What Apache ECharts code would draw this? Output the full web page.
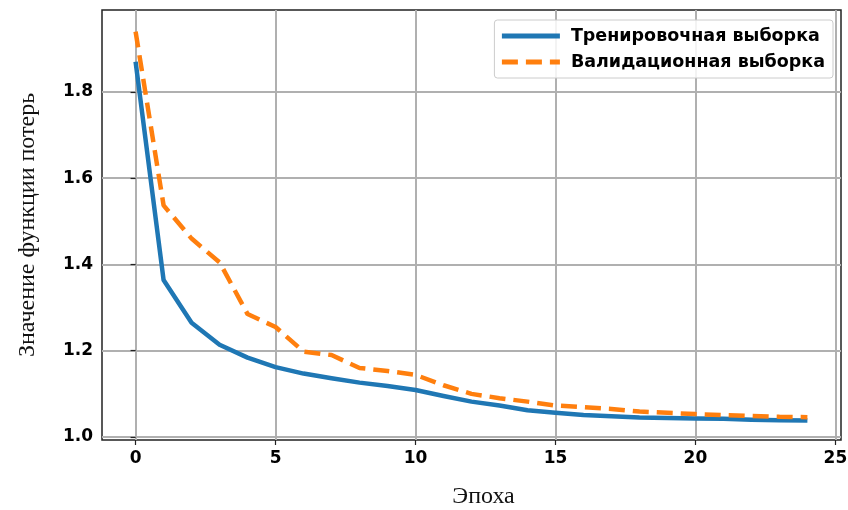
<!DOCTYPE html>
<html>
<head>
<meta charset="utf-8">
<script src="https://cdn.jsdelivr.net/npm/echarts@6/dist/echarts.min.js"></script>
<style>
  html, body { margin: 0; padding: 0; background: #fff; }
  #chart { width: 848px; height: 510px; }
</style>
</head>
<body>
<div id="chart"></div>
<script>
// данные графика
const epochs = [0, 1, 2, 3, 4, 5, 6, 7, 8, 9, 10, 11, 12, 13, 14, 15, 16, 17, 18, 19, 20, 21, 22, 23, 24]
const trainLoss = [1.87, 1.364, 1.265, 1.214, 1.184, 1.162, 1.147, 1.136, 1.126, 1.118, 1.109, 1.095, 1.082, 1.073, 1.062, 1.056, 1.051, 1.048, 1.045, 1.044, 1.043, 1.042, 1.040, 1.039, 1.038]
const valLoss = [1.94, 1.537, 1.46, 1.405, 1.285, 1.255, 1.198, 1.19, 1.16, 1.153, 1.144, 1.12, 1.1, 1.09, 1.082, 1.073, 1.069, 1.065, 1.059, 1.056, 1.053, 1.051, 1.049, 1.047, 1.046]
const xTicks = [0, 5, 10, 15, 20, 25]
const yTicks = [1.0, 1.2, 1.4, 1.6, 1.8]
const seriesNames = ['Тренировочная выборка', 'Валидационная выборка']

const myChart = echarts.init(document.getElementById('chart'))

const tickFont = {
  fontFamily: 'DejaVu Sans',
  fontWeight: 'bold',
  fontSize: 17,
  color: '#000'
}

const option = {
  animation: false,
  backgroundColor: '#fff',
  grid: {
    left: 102,
    right: 7,
    top: 10,
    bottom: 70,
    outerBoundsMode: 'none',
    containLabel: false,
    show: true,
    borderColor: '#222',
    borderWidth: 1.5
  },
  legend: {
    top: 20,
    right: 15,
    orient: 'vertical',
    itemWidth: 58,
    itemHeight: 14,
    itemGap: 8,
    padding: [7, 8, 7, 5],
    backgroundColor: 'rgba(255,255,255,0.85)',
    borderColor: '#ccc',
    borderWidth: 1,
    borderRadius: 3,
    itemStyle: { opacity: 0 },
    lineStyle: { width: 5 },
    textStyle: {
      fontFamily: 'DejaVu Sans',
      fontWeight: 'bold',
      fontSize: 17.5,
      color: '#000',
      padding: [0, 0, 0, 6]
    },
    data: seriesNames
  },
  xAxis: {
    type: 'value',
    min: -1.2,
    max: 25.2,
    name: 'Эпоха',
    nameLocation: 'middle',
    nameGap: 45,
    nameTextStyle: { fontFamily: 'Liberation Serif', fontSize: 24, color: '#111', padding: [0, 0, 0, 24] },
    axisLine: { show: false },
    axisTick: { show: true, customValues: xTicks, length: 5, lineStyle: { color: '#222', width: 1.2 } },
    axisLabel: { customValues: xTicks, margin: 10, ...tickFont },
    splitLine: { show: true, lineStyle: { color: '#b0b0b0', width: 2 } }
  },
  yAxis: {
    type: 'value',
    min: 0.993,
    max: 1.99,
    name: 'Значение функции потерь',
    nameLocation: 'middle',
    nameGap: 62,
    nameTextStyle: { fontFamily: 'Liberation Serif', fontSize: 24, color: '#111' },
    axisLine: { show: false },
    axisTick: { show: true, customValues: yTicks, length: 5, lineStyle: { color: '#222', width: 1.2 } },
    axisLabel: { customValues: yTicks, margin: 9, formatter: v => v.toFixed(1), ...tickFont },
    splitLine: { show: true, lineStyle: { color: '#b0b0b0', width: 2 } }
  },
  series: [
    {
      name: seriesNames[0],
      type: 'line',
      data: epochs.map((e, i) => [e, trainLoss[i]]),
      showSymbol: false,
      symbol: 'none',
      color: '#1f77b4',
      lineStyle: { width: 4.5, color: '#1f77b4', cap: 'butt', join: 'round' }
    },
    {
      name: seriesNames[1],
      type: 'line',
      data: epochs.map((e, i) => [e, valLoss[i]]),
      showSymbol: false,
      symbol: 'none',
      color: '#ff7f0e',
      lineStyle: { width: 4.5, color: '#ff7f0e', type: [16, 8], cap: 'butt' }
    }
  ]
}

myChart.setOption(option)
</script>
</body>
</html>
